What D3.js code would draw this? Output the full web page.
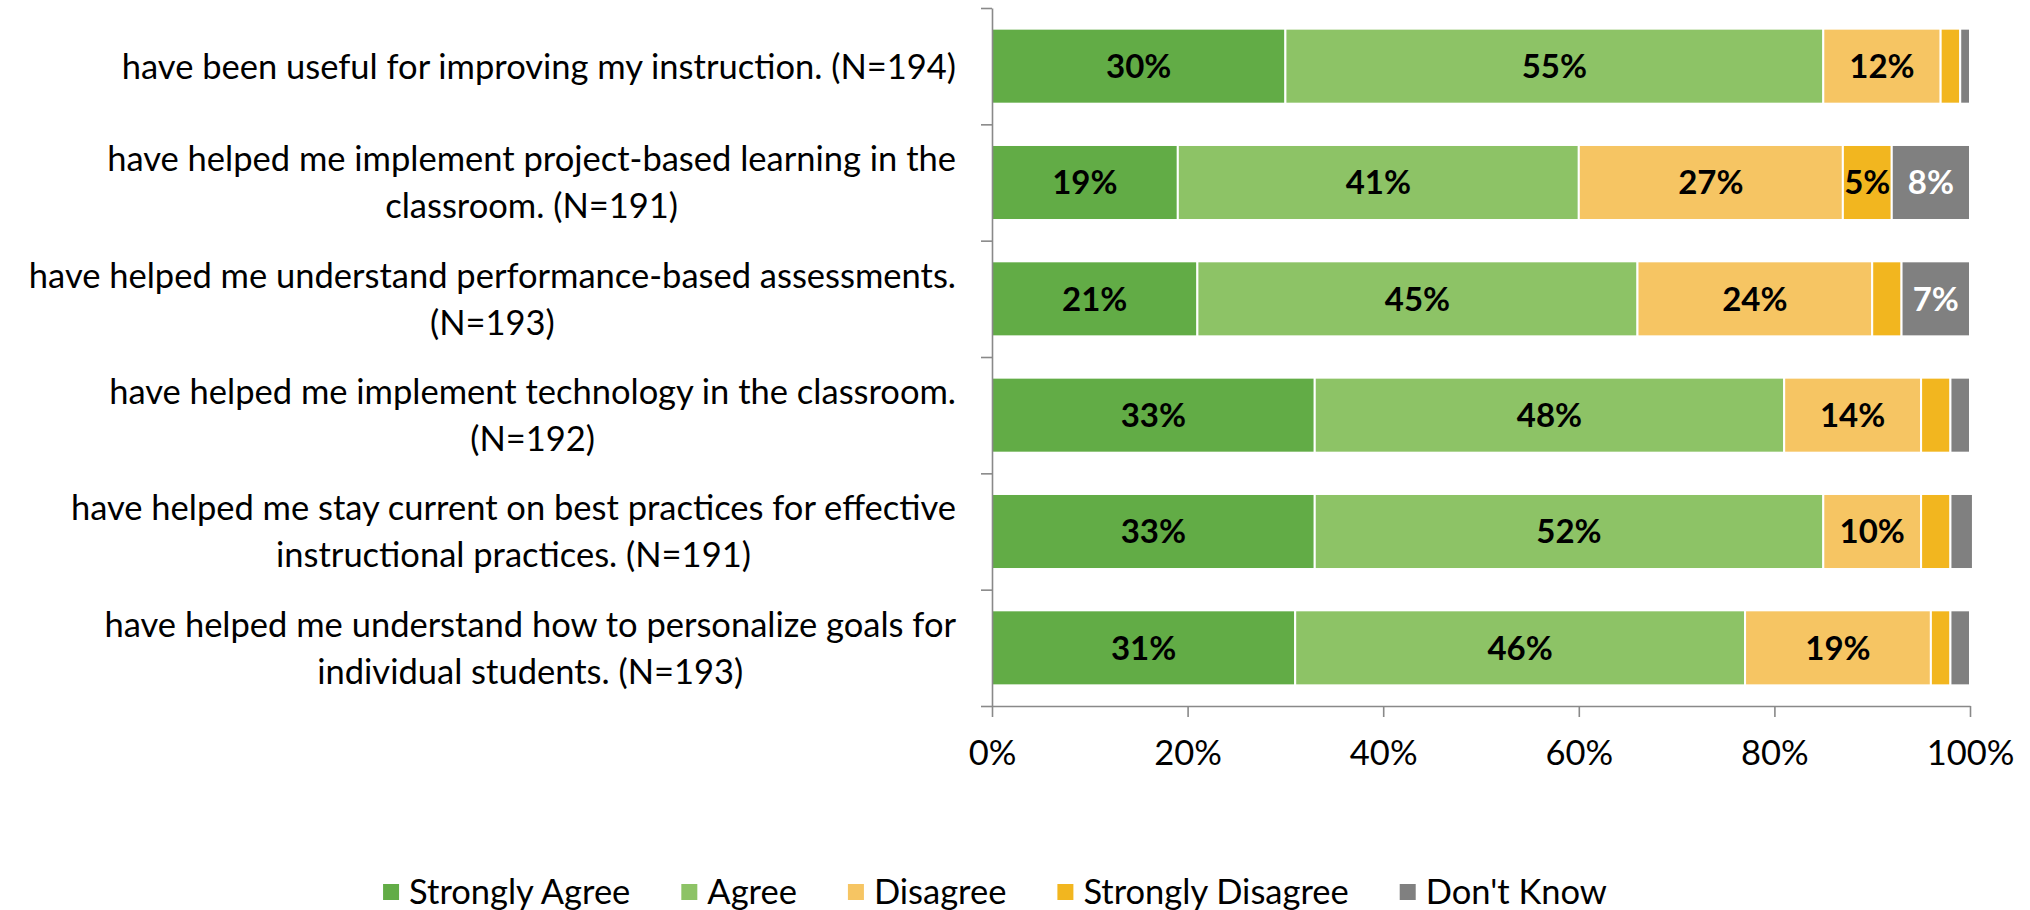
<!DOCTYPE html>
<html>
<head>
<meta charset="utf-8">
<script src="https://cdn.jsdelivr.net/npm/d3@7"></script>
<style>
  body { margin: 0; background: #ffffff; }
  text { font-family: Lato, "Open Sans", sans-serif; }
</style>
</head>
<body>
<svg id="chart" width="2030" height="910"></svg>
<script>
// categories, top to bottom ("\n" = line break as in the original)
var categories = [
  "have been useful for improving my instruction. (N=194)",
  "have helped me implement project-based learning in the\nclassroom. (N=191)",
  "have helped me understand performance-based assessments.\n(N=193)",
  "have helped me implement technology in the classroom.\n(N=192)",
  "have helped me stay current on best practices for effective\ninstructional practices. (N=191)",
  "have helped me understand how to personalize goals for\nindividual students. (N=193)"
];

var seriesNames = ["Strongly Agree", "Agree", "Disagree", "Strongly Disagree", "Don't Know"];
var seriesColors = ["#62ac46", "#8dc366", "#f6c563", "#f2b61f", "#808080"];

var stronglyAgree    = [30, 19, 21, 33, 33, 31];
var agree            = [55, 41, 45, 48, 52, 46];
var disagree         = [12, 27, 24, 14, 10, 19];
var stronglyDisagree = [2, 5, 3, 3, 3, 2];
var dontKnow         = [1, 8, 7, 2, 2.3, 2];

var xTicks = [0, 20, 40, 60, 80, 100];

var fontSize = 34.5;     // regular text
var labelFontSize = 33;  // bold data labels
var margin = {top: 8, left: 992, right: 60, bottom: 204};
var width = 2030, height = 910;

var svg = d3.select('#chart');

// build rows for the stack
var rows = categories.map(function (c, i) {
  return {
    cat: i,
    "Strongly Agree": stronglyAgree[i],
    "Agree": agree[i],
    "Disagree": disagree[i],
    "Strongly Disagree": stronglyDisagree[i],
    "Don't Know": dontKnow[i]
  };
});
var stacked = d3.stack().keys(seriesNames)(rows);

var x = d3.scaleLinear().domain([0, 100]).range([margin.left, width - margin.right]);
var y = d3.scaleBand()
  .domain(d3.range(categories.length))
  .range([margin.top, height - margin.bottom])
  .paddingInner(0.355)
  .paddingOuter(0.1775);
var yEdge = d3.scaleLinear().domain([0, categories.length]).range([margin.top, height - margin.bottom]);

// bars
var layer = svg.append('g').selectAll('g')
  .data(stacked)
  .enter().append('g')
    .attr('fill', function (d, i) { return seriesColors[i]; });

layer.selectAll('rect')
  .data(function (d) { return d; })
  .enter().append('rect')
    .attr('x', function (d) { return x(d[0]); })
    .attr('y', function (d) { return y(d.data.cat); })
    .attr('width', function (d) { return x(d[1]) - x(d[0]); })
    .attr('height', y.bandwidth())
    .attr('stroke', '#ffffff')
    .attr('stroke-width', 2);

// data labels
stacked.forEach(function (s, si) {
  svg.append('g').selectAll('text')
    .data(s.filter(function (d) { return d[1] - d[0] >= 5; }))
    .enter().append('text')
      .attr('x', function (d) { return (x(d[0]) + x(d[1])) / 2; })
      .attr('y', function (d) { return y(d.data.cat) + y.bandwidth() / 2; })
      .attr('dy', '0.36em')
      .attr('text-anchor', 'middle')
      .style('font-size', labelFontSize + 'px')
      .style('font-weight', 'bold')
      .style('fill', s.key == "Don't Know" ? '#ffffff' : '#000000')
      .text(function (d) { return Math.round(d[1] - d[0]) + '%'; });
});

// y axis (category boundaries)
var yAxis = svg.append('g')
  .attr('transform', 'translate(' + margin.left + ',0)')
  .call(d3.axisLeft(yEdge).ticks(categories.length).tickFormat('').tickSize(11).tickSizeOuter(0));
yAxis.selectAll('path, line').attr('stroke', '#898989').attr('stroke-width', 1.6);

// x axis
var xAxis = svg.append('g')
  .attr('transform', 'translate(0,' + (height - margin.bottom) + ')')
  .call(d3.axisBottom(x).tickValues(xTicks).tickFormat(function (d) { return d + '%'; }).tickSize(11).tickSizeOuter(0));
xAxis.selectAll('path, line').attr('stroke', '#898989').attr('stroke-width', 1.6);
xAxis.selectAll('text')
  .attr('y', 59)
  .attr('dy', 0)
  .style('font-size', fontSize + 'px')
  .style('font-family', 'Lato, sans-serif')
  .style('fill', '#000000');

// category labels: block right-aligned, lines centred within the block
var labelRight = 956;
var lineHeight = 47;
categories.forEach(function (c, i) {
  var lines = c.split('\n');
  var g = svg.append('g');
  var cy = y(i) + y.bandwidth() / 2;
  var texts = g.selectAll('text')
    .data(lines)
    .enter().append('text')
      .attr('y', function (d, j) { return cy + (j - (lines.length - 1) / 2) * lineHeight; })
      .attr('dy', '0.36em')
      .attr('text-anchor', 'middle')
      .style('font-size', fontSize + 'px')
      .style('fill', '#000000')
      .text(function (d) { return d; });
  var maxW = d3.max(texts.nodes(), function (n) { return n.getComputedTextLength(); });
  texts.attr('x', labelRight - maxW / 2);
});

// legend
var legend = svg.append('g');
var lx = 0;
seriesNames.forEach(function (name, i) {
  var item = legend.append('g').attr('transform', 'translate(' + lx + ',0)');
  item.append('rect')
    .attr('x', 0).attr('y', -8)
    .attr('width', 16).attr('height', 16)
    .attr('fill', seriesColors[i]);
  var t = item.append('text')
    .attr('x', 26)
    .attr('dy', '0.36em')
    .style('font-size', fontSize + 'px')
    .style('fill', '#000000')
    .text(name);
  lx += 26 + t.node().getComputedTextLength() + 51;
});
var legendW = lx - 51;
legend.attr('transform', 'translate(' + (995 - legendW / 2) + ',892)');
</script>
</body>
</html>
